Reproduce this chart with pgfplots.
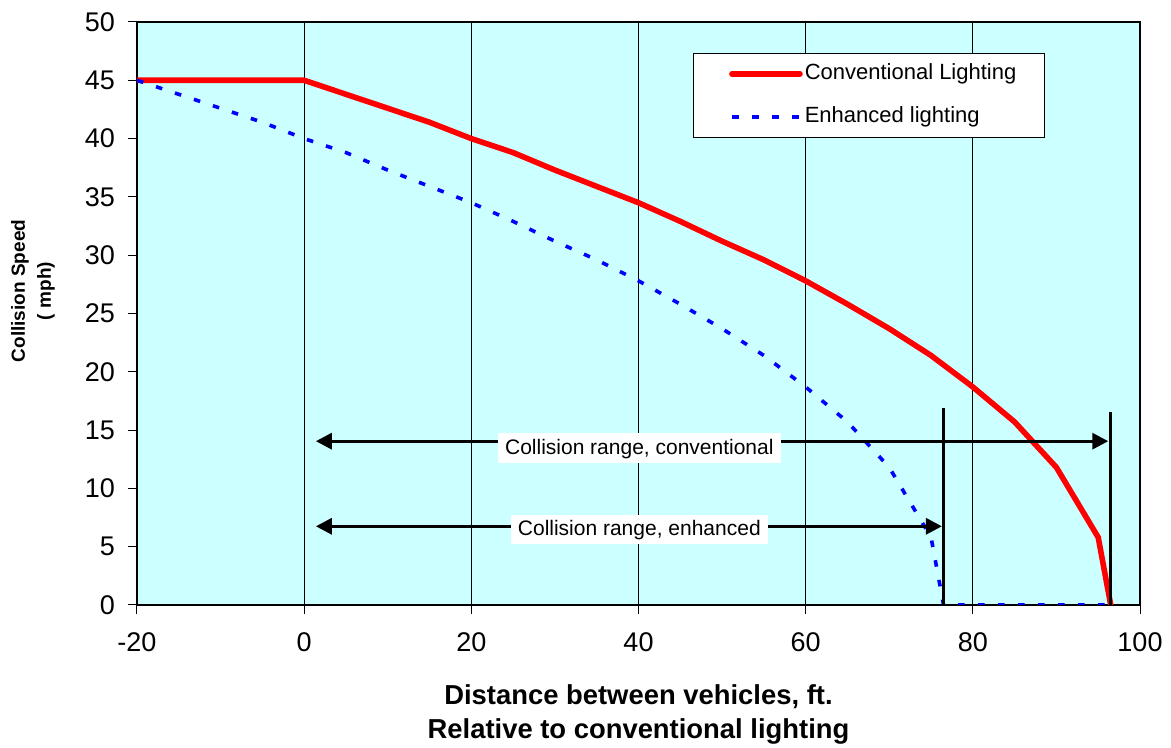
\documentclass[border=0pt]{standalone}
\usepackage{fontspec}
\setmainfont{Liberation Sans}
\usepackage{pgfplots}
\pgfplotsset{compat=1.18}
\usetikzlibrary{arrows.meta}
\definecolor{plotbg}{RGB}{204,255,255}

\begin{document}
\begin{tikzpicture}
\begin{axis}[
  scale only axis, width=501.5pt, height=291.5pt,
  xmin=-20, xmax=100, ymin=0, ymax=50,
  xtick={-20,0,20,40,60,80,100},
  ytick={0,5,10,15,20,25,30,35,40,45,50},
  xmajorgrids, grid style={black, line width=0.5pt},
  axis line style={black, line width=0.6pt},
  tick style={black, line width=0.5pt},
  tick align=outside, major tick length=4.5pt,
  xtick pos=bottom, ytick pos=left,
  axis background/.style={fill=plotbg},
  /pgf/number format/assume math mode=true,
  ticklabel style={font=\fontsize{13.5}{16}\selectfont},
  yticklabel style={xshift=-3pt},
  xticklabel style={yshift=-6pt},
  xlabel={Distance between vehicles, ft.\\Relative to conventional lighting},
  xlabel style={align=center, font=\bfseries\fontsize{13.7}{17}\selectfont,
    at={(axis description cs:0.5,-0.1355)}, anchor=north, inner sep=0pt},
  ylabel={Collision Speed\\( mph)},
  ylabel style={align=center, font=\bfseries\fontsize{9.5}{13}\selectfont,
    at={(axis description cs:-0.1037,0.5386)}, anchor=center, inner sep=0pt},
  legend cell align=left,
  legend style={at={(0.554,0.947)}, anchor=north west, draw=black,
    line width=0.5pt, fill=white, inner xsep=14pt, inner ysep=5pt,
    row sep=11pt, column sep=1pt, font=\fontsize{11}{13}\selectfont,
    nodes={inner sep=0pt, text height=8pt, text depth=2.5pt}},
  legend image code/.code={\path (-4pt,0pt); \draw[#1] (0pt,0pt) -- (34pt,0pt);},
]
% conventional lighting
\addplot[red, line width=2.8pt, line cap=round] coordinates {
  (-20,45) (0,45) (5,43.8) (10,42.6) (15,41.4) (20,40.0) (25,38.8)
  (30,37.3) (35,35.9) (40,34.5) (45,32.9) (50,31.2) (55,29.6) (60,27.8)
  (65,25.8) (70,23.7) (75,21.4) (80,18.7) (85,15.7) (90,11.8) (95,5.8)
  (96.5,0)
};
\addlegendentry{Conventional Lighting}
% enhanced lighting
\addplot[blue, line width=1.8pt, dash pattern=on 3.3pt off 6.7pt] coordinates {
  (-20,45) (-15,43.8) (-10,42.6) (-5,41.4) (0,40.0) (5,38.8) (10,37.3)
  (15,35.9) (20,34.5) (25,32.9) (30,31.2) (35,29.6) (40,27.8) (45,25.8)
  (50,23.7) (55,21.4) (60,18.7) (65,15.7) (70,11.8) (75,5.8) (76.5,0)
  (96.5,0)
};
\addlegendentry{Enhanced lighting}

% collision range markers
\draw[line width=1.5pt] (axis cs:76.5,0) -- (axis cs:76.5,16.9);
\draw[line width=1.5pt] (axis cs:96.5,0) -- (axis cs:96.5,16.55);
\draw[line width=1.6pt, {Triangle[length=8pt,width=8pt]}-{Triangle[length=8pt,width=8pt]}]
  (axis cs:1.4,14.05) -- (axis cs:96.2,14.05);
\draw[line width=1.6pt, {Triangle[length=8pt,width=8pt]}-{Triangle[length=8pt,width=8pt]}]
  (axis cs:1.4,6.75) -- (axis cs:76.3,6.75);
\node[fill=white, anchor=base, inner xsep=3.5pt, inner ysep=3pt,
  text height=7.5pt, text depth=1.25pt, font=\fontsize{10.5}{12}\selectfont]
  at (axis cs:40.1,12.92) {Collision range, conventional};
\node[fill=white, anchor=base, inner xsep=3.5pt, inner ysep=3pt,
  text height=7.5pt, text depth=1.25pt, font=\fontsize{10.5}{12}\selectfont]
  at (axis cs:40.1,5.92) {Collision range, enhanced};
\end{axis}
\pgfresetboundingbox
\useasboundingbox ([shift={(-68.5pt,-71.5pt)}]current axis.south west)
  rectangle ([shift={(15.5pt,11pt)}]current axis.north east);
\end{tikzpicture}
\end{document}
